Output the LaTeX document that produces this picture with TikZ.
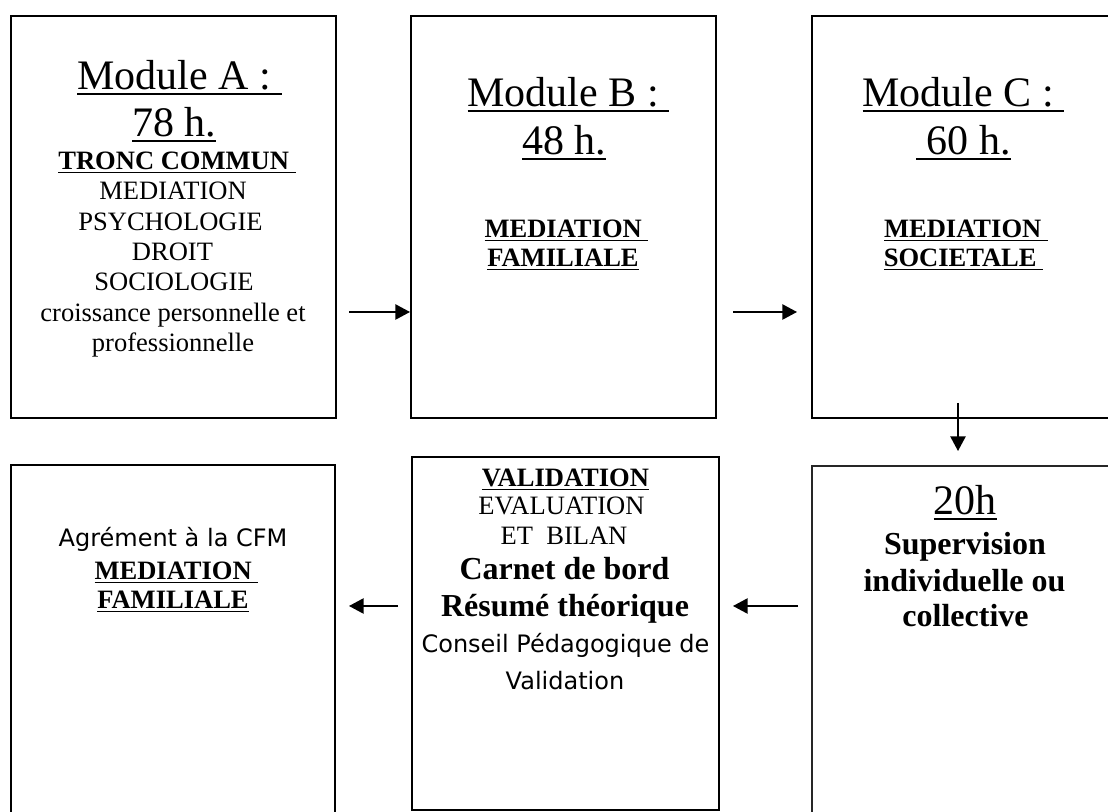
\documentclass[tikz,border=0pt]{standalone}
\usepackage{fontspec}
\setmainfont{Liberation Serif}
\newfontfamily\comicfont{DejaVu Sans}
\usetikzlibrary{arrows.meta,fit,calc}

\newcommand{\bigsz}{\fontsize{31.5pt}{36pt}\selectfont}
\newcommand{\normsz}{\fontsize{19.9pt}{23pt}\selectfont}
\newcommand{\boldsz}{\fontsize{24pt}{28pt}\selectfont\bfseries}
\newcommand{\comicsz}{\fontsize{18pt}{22pt}\selectfont\comicfont}
\newcommand{\undr}[1]{\setbox0=\hbox{#1}\rlap{\rule[-0.13em]{\wd0}{0.06em}}\box0}

\tikzset{
  box/.style={draw, line width=1.5pt, inner sep=0pt},
  thinbox/.style={draw=black!85, line width=0.8pt, inner sep=0pt},
  txt/.style={anchor=base, inner sep=0pt},
  arr/.style={line width=1.1pt, -{Triangle[length=11pt,width=11.5pt]}},
}

\begin{document}
\begin{tikzpicture}[x=0.75pt, y=-0.75pt]
	\useasboundingbox (0,0) rectangle (1108,812);
	% boxes
	\node[box, fit={(11,16) (336,418)}] (A) {};
	\node[box, fit={(411,16) (716,418)}] (B) {};
	\node[box, fit={(812,16) (1130,418)}] (C) {};
	\node[box, fit={(11,465) (335,840)}] (D) {};
	\node[box, fit={(412,457) (719,810)}] (E) {};
	\node[thinbox, fit={(812,466) (1130,840)}] (F) {};
	% module A
	\node[txt, font=\bigsz] (a1) at (179.5,90) {\undr{Module A :\ }};
	\node[txt, font=\bigsz] (a2) at (174,137) {\undr{78 h.}};
	\node[txt, font=\normsz\bfseries] (a3) at (177,170) {\undr{TRONC COMMUN\ }};
	\node[txt, font=\normsz] (a4) at (173,200) {MEDIATION};
	\node[txt, font=\normsz] (a5) at (170.5,231) {PSYCHOLOGIE};
	\node[txt, font=\normsz] (a6) at (172.5,261) {DROIT};
	\node[txt, font=\normsz] (a7) at (174,291) {SOCIOLOGIE};
	\node[txt, font=\normsz] (a8) at (173,321.5) {croissance personnelle et};
	\node[txt, font=\normsz] (a9) at (173,351.5) {professionnelle};
	% module B
	\node[txt, font=\bigsz] (b1) at (568.5,107) {\undr{Module B :\ }};
	\node[txt, font=\bigsz] (b2) at (564,155) {\undr{48 h.}};
	\node[txt, font=\normsz\bfseries] (b3) at (566.5,238) {\undr{MEDIATION\ }};
	\node[txt, font=\normsz\bfseries] (b4) at (563,267) {\undr{FAMILIALE}};
	% module C
	\node[txt, font=\bigsz] (c1) at (963.5,107) {\undr{Module C :\ }};
	\node[txt, font=\bigsz] (c2) at (963.5,155) {\undr{\ 60 h.}};
	\node[txt, font=\normsz\bfseries] (c3) at (966,238) {\undr{MEDIATION\ }};
	\node[txt, font=\normsz\bfseries] (c4) at (963.5,267) {\undr{SOCIETALE\ }};
	% agrement
	\node[txt, font=\comicsz] (d1) at (173,547) {Agrément à la CFM};
	\node[txt, font=\normsz\bfseries] (d2) at (176.5,580) {\undr{MEDIATION\ }};
	\node[txt, font=\normsz\bfseries] (d3) at (173,609) {\undr{FAMILIALE}};
	% validation
	\node[txt, font=\normsz\bfseries] (e1) at (565.5,487) {\undr{VALIDATION}};
	\node[txt, font=\normsz] (e2) at (561.5,515) {EVALUATION};
	\node[txt, font=\normsz] (e3) at (564,545) {ET\ \ BILAN};
	\node[txt, font=\boldsz] (e4) at (564.5,580) {Carnet de bord};
	\node[txt, font=\boldsz] (e5) at (565,617) {Résumé théorique};
	\node[txt, font=\comicsz] (e6) at (565.5,653) {Conseil Pédagogique de};
	\node[txt, font=\comicsz] (e7) at (565,690) {Validation};
	% supervision
	\node[txt, font=\bigsz] (f1) at (965,515) {\undr{20h}};
	\node[txt, font=\boldsz] (f2) at (965,555) {Supervision};
	\node[txt, font=\boldsz] (f3) at (964.5,592) {individuelle ou};
	\node[txt, font=\boldsz] (f4) at (965.5,627) {collective};
	% arrows
	\coordinate (ab) at (349,312);
	\coordinate (bc1) at (733,312);
	\coordinate (bc2) at (797,312);
	\coordinate (cf1) at (958,403);
	\coordinate (cf2) at (958,451);
	\coordinate (fe1) at (798,606);
	\coordinate (fe2) at (733,606);
	\coordinate (ed1) at (398,606);
	\coordinate (ed2) at (349,606);
	\draw[arr] (ab) -- (ab -| B.west);
	\draw[arr] (bc1) -- (bc2);
	\draw[arr] (cf1) -- (cf2);
	\draw[arr] (fe1) -- (fe2);
	\draw[arr] (ed1) -- (ed2);
\end{tikzpicture}
\end{document}
